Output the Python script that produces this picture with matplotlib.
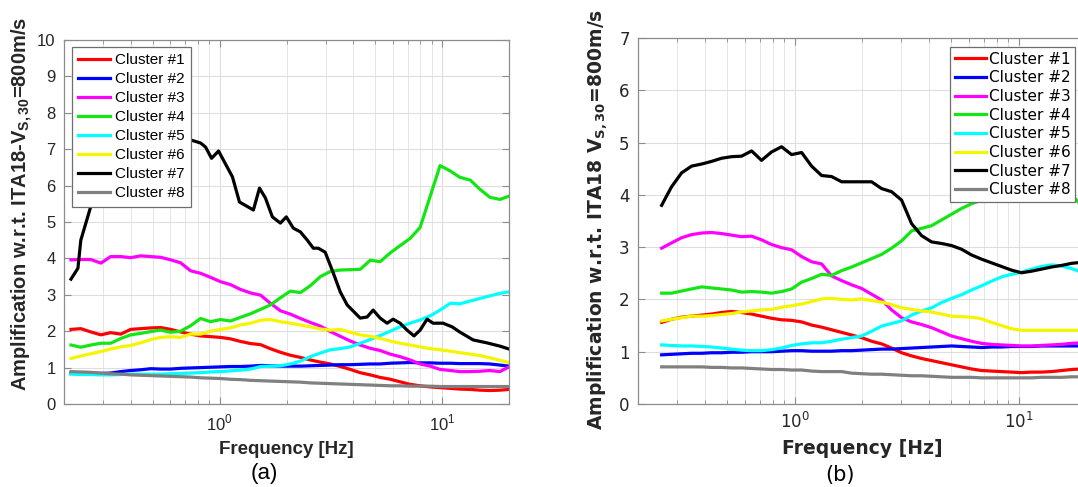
import numpy as np
import matplotlib
matplotlib.use('Agg')
import matplotlib.pyplot as plt
from matplotlib.ticker import LogLocator, NullFormatter

plt.rcParams['mathtext.fontset'] = 'custom'
plt.rcParams['mathtext.rm'] = 'Liberation Sans'
plt.rcParams['mathtext.bf'] = 'Liberation Sans:bold'

labels = ['Cluster #1', 'Cluster #2', 'Cluster #3', 'Cluster #4',
          'Cluster #5', 'Cluster #6', 'Cluster #7', 'Cluster #8']
colors = ['#ff0000', '#0000ff', '#ff00ff', '#14e614',
          '#00ffff', '#f5f500', '#000000', '#808080']

# panel (a) frequencies [Hz]
freq_a = [0.215, 0.238, 0.264, 0.293, 0.324, 0.36, 0.399, 0.442, 0.491, 0.544,
          0.603, 0.668, 0.741, 0.822, 0.911, 1.01, 1.12, 1.24, 1.38, 1.53,
          1.69, 1.88, 2.08, 2.31, 2.56, 2.84, 3.15, 3.49, 3.87, 4.29,
          4.76, 5.27, 5.85, 6.48, 7.19, 7.97, 8.84, 9.80, 10.9, 12.0,
          13.4, 14.8, 16.4, 18.2, 20.0]
c1_a = [2.05, 2.07, 1.98, 1.90, 1.96, 1.92, 2.05, 2.07, 2.09, 2.10,
        2.05, 1.98, 1.92, 1.87, 1.85, 1.83, 1.79, 1.72, 1.66, 1.63,
        1.52, 1.42, 1.34, 1.28, 1.21, 1.15, 1.10, 1.03, 0.95, 0.86,
        0.80, 0.73, 0.68, 0.61, 0.54, 0.50, 0.47, 0.45, 0.43, 0.41,
        0.40, 0.38, 0.37, 0.38, 0.40]
c2_a = [0.84, 0.84, 0.84, 0.84, 0.85, 0.89, 0.92, 0.94, 0.97, 0.96,
        0.96, 0.98, 0.99, 1.00, 1.01, 1.02, 1.03, 1.03, 1.04, 1.06,
        1.05, 1.04, 1.04, 1.04, 1.05, 1.06, 1.07, 1.08, 1.08, 1.09,
        1.10, 1.10, 1.12, 1.13, 1.14, 1.13, 1.13, 1.12, 1.12, 1.11,
        1.11, 1.11, 1.10, 1.07, 1.04]
c3_a = [3.96, 3.97, 3.97, 3.87, 4.05, 4.05, 4.02, 4.07, 4.05, 4.03,
        3.96, 3.88, 3.66, 3.59, 3.48, 3.36, 3.28, 3.15, 3.05, 2.99,
        2.77, 2.56, 2.47, 2.35, 2.24, 2.14, 1.99, 1.86, 1.73, 1.62,
        1.53, 1.47, 1.37, 1.30, 1.21, 1.10, 1.04, 0.95, 0.92, 0.89,
        0.89, 0.90, 0.92, 0.89, 1.02]
c4_a = [1.62, 1.56, 1.62, 1.67, 1.67, 1.80, 1.90, 1.94, 1.99, 2.03,
        1.97, 2.00, 2.15, 2.35, 2.26, 2.32, 2.28, 2.38, 2.48, 2.60,
        2.72, 2.92, 3.10, 3.06, 3.25, 3.50, 3.64, 3.68, 3.69, 3.70,
        3.95, 3.91, 4.15, 4.35, 4.55, 4.85, 5.70, 6.55, 6.40, 6.23,
        6.15, 5.90, 5.68, 5.62, 5.71]
c5_a = [0.82, 0.81, 0.81, 0.80, 0.80, 0.81, 0.82, 0.82, 0.82, 0.82,
        0.83, 0.84, 0.85, 0.86, 0.88, 0.89, 0.91, 0.93, 0.96, 1.03,
        1.04, 1.05, 1.10, 1.18, 1.30, 1.40, 1.49, 1.52, 1.57, 1.67,
        1.77, 1.88, 2.00, 2.12, 2.22, 2.31, 2.42, 2.58, 2.77, 2.75,
        2.83, 2.90, 2.97, 3.04, 3.08]
c6_a = [1.25, 1.32, 1.38, 1.44, 1.51, 1.57, 1.61, 1.68, 1.77, 1.83,
        1.85, 1.83, 1.92, 1.92, 2.00, 2.05, 2.09, 2.17, 2.22, 2.30,
        2.32, 2.26, 2.22, 2.17, 2.12, 2.06, 2.03, 2.05, 1.97, 1.90,
        1.86, 1.80, 1.73, 1.67, 1.62, 1.57, 1.52, 1.49, 1.45, 1.41,
        1.37, 1.33, 1.27, 1.20, 1.14]
c8_a = [0.89, 0.88, 0.87, 0.85, 0.83, 0.82, 0.80, 0.79, 0.78, 0.77,
        0.76, 0.75, 0.74, 0.72, 0.71, 0.70, 0.68, 0.67, 0.65, 0.64,
        0.63, 0.62, 0.61, 0.60, 0.58, 0.57, 0.56, 0.55, 0.54, 0.53,
        0.52, 0.51, 0.50, 0.50, 0.49, 0.49, 0.49, 0.48, 0.48, 0.48,
        0.48, 0.48, 0.48, 0.48, 0.48]
# cluster 7 is jagged, own frequency list
freq7_a = [0.215, 0.231, 0.238, 0.269, 0.293, 0.324, 0.379, 0.466, 0.573, 0.719,
           0.822, 0.865, 0.921, 0.99, 1.143, 1.229, 1.42, 1.512, 1.608, 1.728,
           1.877, 1.996, 2.147, 2.307, 2.481, 2.64, 2.779, 2.985, 3.245, 3.488,
           3.749, 4.286, 4.607, 4.903, 5.27, 5.664, 6.028, 6.479, 6.963, 7.484,
           7.97, 8.566, 9.115, 10.1, 11.1, 12.0, 13.8, 15.9, 18.2, 20.0]
c7_a = [3.43, 3.73, 4.5, 5.6, 6.3, 6.8, 7.2, 7.4, 7.4, 7.28,
        7.17, 7.06, 6.75, 6.95, 6.24, 5.55, 5.33, 5.93, 5.66, 5.14,
        4.97, 5.14, 4.83, 4.73, 4.5, 4.28, 4.28, 4.17, 3.6, 3.08,
        2.72, 2.36, 2.39, 2.58, 2.36, 2.22, 2.33, 2.22, 2.03, 1.87,
        2.03, 2.33, 2.22, 2.22, 2.12, 1.98, 1.76, 1.68, 1.59, 1.51]

# panel (b)
freq_b = [0.255, 0.282, 0.313, 0.347, 0.385, 0.426, 0.472, 0.523, 0.58, 0.643,
          0.712, 0.789, 0.875, 0.97, 1.075, 1.191, 1.32, 1.463, 1.622, 1.797,
          1.992, 2.207, 2.446, 2.711, 3.004, 3.329, 3.69, 4.089, 4.532, 5.022,
          5.565, 6.168, 6.835, 7.575, 8.394, 9.302, 10.31, 11.42, 12.66, 14.03,
          15.55, 17.23, 19.09]
c1_b = [1.56, 1.62, 1.66, 1.68, 1.70, 1.72, 1.75, 1.77, 1.75, 1.72,
        1.68, 1.64, 1.61, 1.60, 1.57, 1.51, 1.47, 1.42, 1.37, 1.32,
        1.27, 1.20, 1.15, 1.07, 0.98, 0.92, 0.87, 0.83, 0.79, 0.75,
        0.71, 0.67, 0.64, 0.63, 0.62, 0.61, 0.60, 0.61, 0.61, 0.62,
        0.64, 0.66, 0.67]
c2_b = [0.94, 0.95, 0.96, 0.97, 0.97, 0.98, 0.98, 0.99, 0.99, 1.00,
        1.00, 1.00, 1.01, 1.02, 1.02, 1.01, 1.01, 1.01, 1.02, 1.02,
        1.03, 1.04, 1.05, 1.05, 1.06, 1.07, 1.08, 1.09, 1.10, 1.11,
        1.10, 1.09, 1.08, 1.09, 1.09, 1.10, 1.10, 1.10, 1.11, 1.11,
        1.11, 1.11, 1.11]
c3_b = [2.98, 3.08, 3.18, 3.24, 3.27, 3.28, 3.26, 3.23, 3.20, 3.21,
        3.14, 3.05, 2.99, 2.95, 2.82, 2.72, 2.68, 2.45, 2.36, 2.28,
        2.21, 2.10, 1.99, 1.80, 1.65, 1.57, 1.52, 1.46, 1.38, 1.30,
        1.25, 1.20, 1.16, 1.14, 1.13, 1.12, 1.11, 1.11, 1.12, 1.13,
        1.14, 1.16, 1.17]
c4_b = [2.12, 2.12, 2.16, 2.20, 2.24, 2.22, 2.20, 2.18, 2.14, 2.15,
        2.14, 2.12, 2.15, 2.20, 2.33, 2.40, 2.48, 2.46, 2.55, 2.62,
        2.70, 2.78, 2.86, 2.98, 3.12, 3.31, 3.36, 3.41, 3.52, 3.63,
        3.74, 3.83, 3.90, 4.00, 4.10, 4.20, 4.25, 4.30, 4.30, 4.30,
        4.20, 4.00, 3.80]
c5_b = [1.13, 1.12, 1.11, 1.11, 1.10, 1.09, 1.07, 1.05, 1.03, 1.02,
        1.02, 1.04, 1.07, 1.12, 1.15, 1.17, 1.17, 1.20, 1.24, 1.27,
        1.30, 1.39, 1.49, 1.54, 1.59, 1.70, 1.78, 1.84, 1.94, 2.02,
        2.09, 2.18, 2.26, 2.35, 2.43, 2.48, 2.52, 2.58, 2.63, 2.66,
        2.64, 2.59, 2.52]
c6_b = [1.59, 1.62, 1.65, 1.68, 1.68, 1.69, 1.71, 1.73, 1.76, 1.78,
        1.80, 1.81, 1.85, 1.88, 1.91, 1.96, 2.01, 2.02, 2.00, 1.99,
        2.01, 1.98, 1.95, 1.90, 1.84, 1.81, 1.78, 1.76, 1.72, 1.68,
        1.67, 1.66, 1.63, 1.56, 1.50, 1.44, 1.41, 1.41, 1.41, 1.41,
        1.41, 1.41, 1.41]
c7_b = [3.80, 4.15, 4.42, 4.55, 4.59, 4.64, 4.70, 4.73, 4.74, 4.84,
        4.66, 4.82, 4.92, 4.77, 4.81, 4.55, 4.37, 4.35, 4.25, 4.25,
        4.25, 4.25, 4.12, 4.06, 3.90, 3.45, 3.22, 3.10, 3.07, 3.03,
        2.96, 2.85, 2.77, 2.70, 2.63, 2.56, 2.51, 2.54, 2.58, 2.62,
        2.65, 2.69, 2.71]
c8_b = [0.71, 0.71, 0.71, 0.71, 0.71, 0.70, 0.70, 0.69, 0.69, 0.68,
        0.67, 0.66, 0.66, 0.65, 0.65, 0.63, 0.62, 0.62, 0.62, 0.59,
        0.58, 0.57, 0.57, 0.56, 0.55, 0.54, 0.54, 0.53, 0.52, 0.51,
        0.51, 0.51, 0.50, 0.50, 0.50, 0.50, 0.50, 0.50, 0.51, 0.51,
        0.51, 0.52, 0.52]

W, H = 1078, 487
fig = plt.figure(figsize=(W / 100, H / 100), dpi=100)
ax1 = fig.add_axes([64 / W, 83 / H, 445 / W, 364 / H])
ax2 = fig.add_axes([638 / W, 83 / H, 448 / W, 366 / H])


def setup(ax, ymax, fam, mfam, size):
    ax.set_xscale('log')
    ax.set_xlim(0.2, 20)
    ax.set_ylim(0, ymax)
    ax.set_yticks(range(ymax + 1))
    ax.set_yticklabels([str(i) for i in range(ymax + 1)], fontfamily=fam, fontsize=size, color='#262626')
    ax.set_xticks([1, 10])
    ax.set_xticklabels(['$10^0$', '$10^1$'], fontfamily=fam, fontsize=size,
                       color='#262626', math_fontfamily=mfam)
    ax.xaxis.set_minor_locator(LogLocator(base=10, subs=np.arange(2, 10)))
    ax.xaxis.set_minor_formatter(NullFormatter())
    ax.grid(True, which='major', color='#dedede', lw=0.8)
    ax.xaxis.grid(True, which='minor', color='#e6e6e6', lw=0.7)
    ax.tick_params(which='both', direction='in', top=True, right=True, color='#8c8c8c')
    ax.tick_params(which='major', length=5, pad=6)
    ax.tick_params(which='minor', length=3)
    for s in ax.spines.values():
        s.set_color('#8c8c8c')
        s.set_linewidth(0.9)
    ax.set_axisbelow(True)


setup(ax1, 10, 'Liberation Sans', 'custom', 12)
setup(ax2, 7, 'DejaVu Sans', 'dejavusans', 12)

ys_a = [c1_a, c2_a, c3_a, c4_a, c5_a, c6_a, c7_a, c8_a]
for i in range(8):
    f = freq7_a if i == 6 else freq_a
    ax1.plot(f, ys_a[i], color=colors[i], lw=2.3, label=labels[i])

ys_b = [c1_b, c2_b, c3_b, c4_b, c5_b, c6_b, c7_b, c8_b]
for i in range(8):
    ax2.plot(freq_b, ys_b[i], color=colors[i], lw=2.3, label=labels[i])

leg1 = ax1.legend(loc='upper left', bbox_to_anchor=(72 / W, 1 - 47 / H),
                  bbox_transform=fig.transFigure, borderaxespad=0,
                  prop={'family': 'Liberation Sans', 'size': 11},
                  handlelength=2.1, handletextpad=0.3, labelspacing=0.33,
                  borderpad=0.4, fancybox=False, framealpha=1, edgecolor='#6e6e6e')
leg1.get_frame().set_linewidth(0.9)
leg2 = ax2.legend(loc='upper right', bbox_to_anchor=(1075 / W, 1 - 47 / H),
                  bbox_transform=fig.transFigure, borderaxespad=0,
                  prop={'family': 'DejaVu Sans', 'size': 11},
                  handlelength=2.0, handletextpad=0.2, labelspacing=0.24,
                  borderpad=0.3, fancybox=False, framealpha=1, edgecolor='#6e6e6e')
leg2.get_frame().set_linewidth(0.9)

# axis titles and panel tags
fig.text(22 / W, 1 - 204 / H, 'Amplification w.r.t. ITA18-V$_{\\mathbf{S,30}}$=800m/s',
         rotation=90, ha='center', va='center', fontfamily='Liberation Sans',
         fontweight='bold', fontsize=14.5, color='#262626', math_fontfamily='custom')
fig.text(598 / W, 1 - 219 / H, 'Amplification w.r.t. ITA18 V$_{\\mathbf{S,30}}$=800m/s',
         rotation=90, ha='center', va='center', fontfamily='DejaVu Sans',
         fontweight='bold', fontsize=13.5, color='#262626', math_fontfamily='dejavusans')
fig.text(286 / W, 1 - 449 / H, 'Frequency [Hz]', ha='center', va='center',
         fontfamily='Liberation Sans', fontweight='bold', fontsize=13.5, color='#262626')
fig.text(862 / W, 1 - 449 / H, 'Frequency [Hz]', ha='center', va='center',
         fontfamily='DejaVu Sans', fontweight='bold', fontsize=13.5, color='#262626')
fig.text(264 / W, 1 - 474 / H, '(a)', ha='center', va='center',
         fontfamily='Liberation Sans', fontsize=16)
fig.text(840 / W, 1 - 475 / H, '(b)', ha='center', va='center',
         fontfamily='DejaVu Sans', fontsize=15)

fig.savefig('out.png', dpi=100)
